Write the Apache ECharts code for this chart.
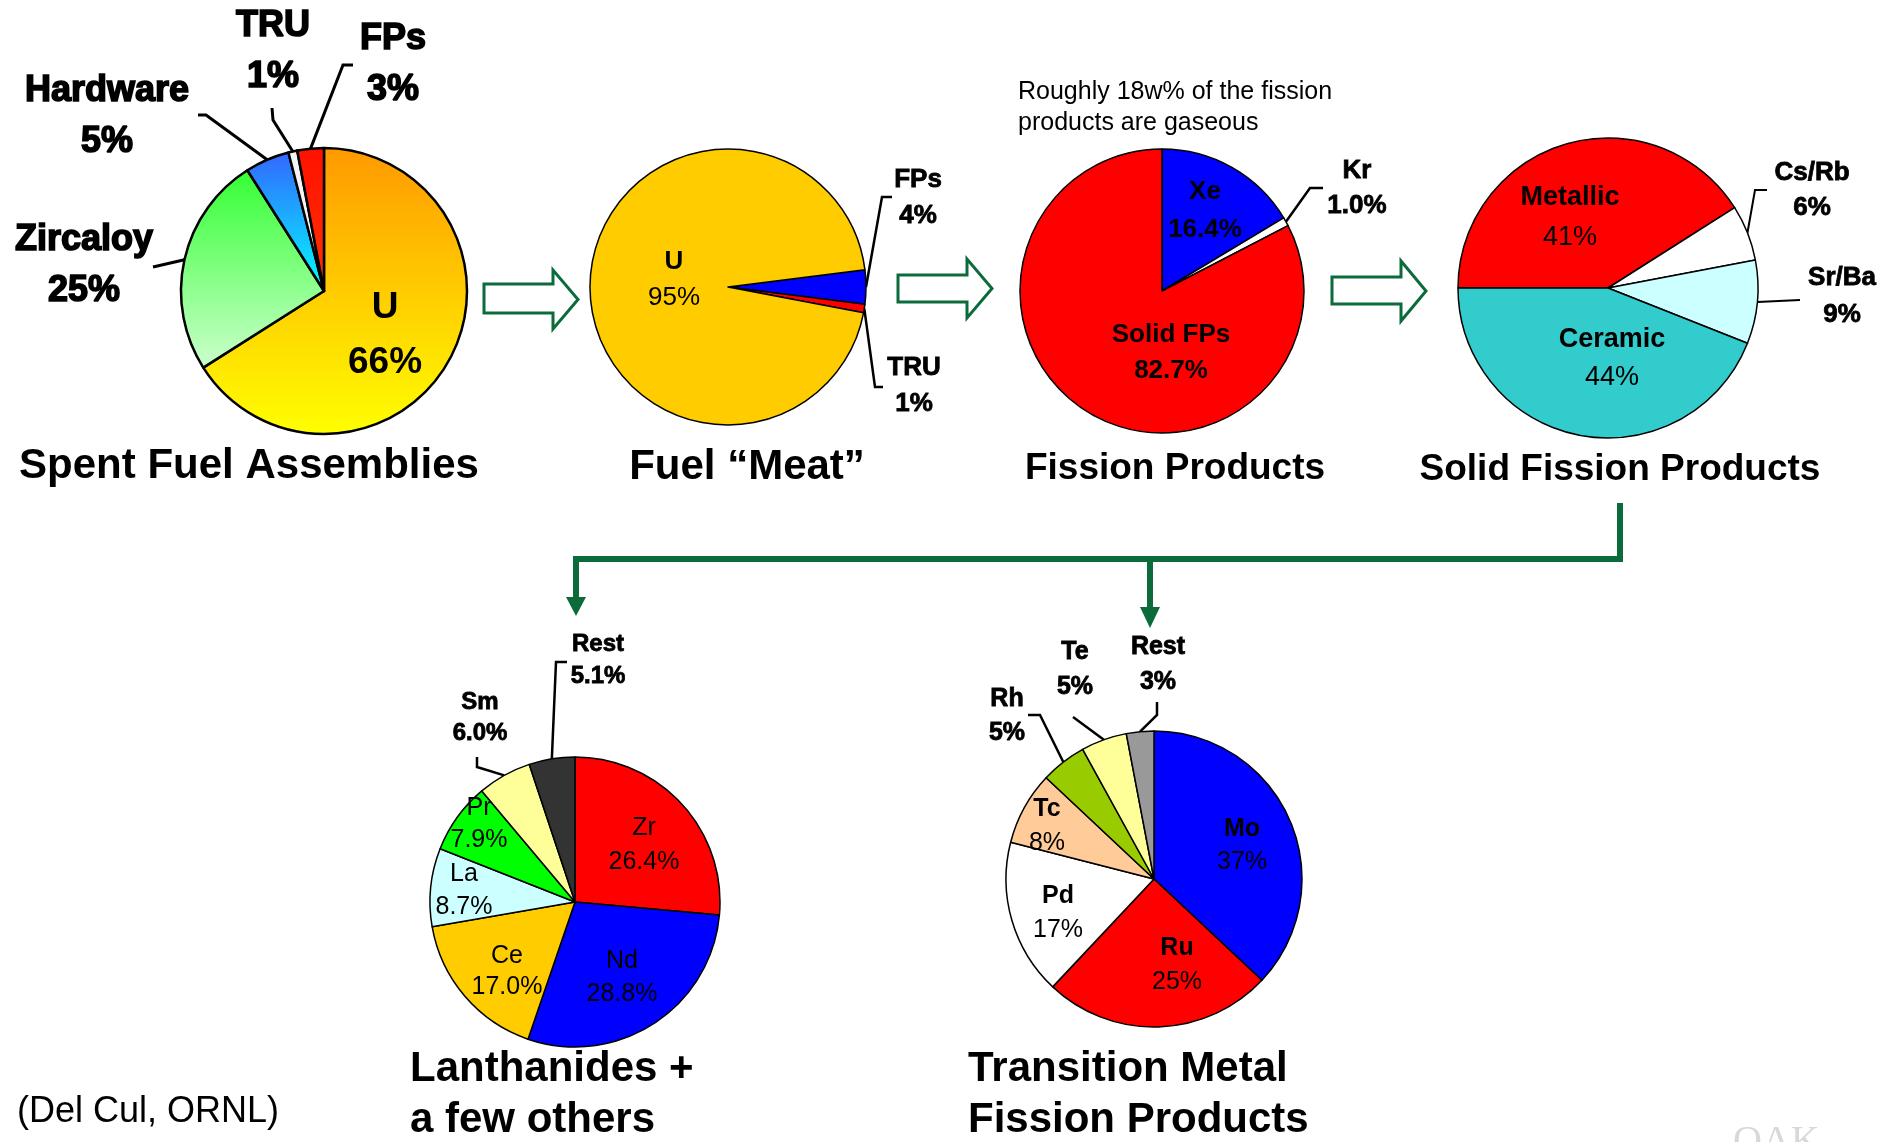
<!DOCTYPE html>
<html>
<head>
<meta charset="utf-8">
<script src="https://cdn.jsdelivr.net/npm/echarts@6/dist/echarts.min.js"></script>
<style>
  html, body { margin: 0; padding: 0; background: #ffffff; }
  #chart { width: 1900px; height: 1142px; }
</style>
</head>
<body>
<div id="chart"></div>
<script>
// ---- composition data (weight %) ----
const spentNames = ['U', 'Zircaloy', 'Hardware', 'TRU', 'FPs'];
const spentValues = [66, 25, 5, 1, 3];

const meatNames = ['FPs', 'TRU', 'U'];
const meatValues = [4, 1, 95];

const fissionNames = ['Xe', 'Kr', 'Solid FPs'];
const fissionValues = [16.4, 1.0, 82.7];

const solidNames = ['Metallic', 'Cs/Rb', 'Sr/Ba', 'Ceramic'];
const solidValues = [41, 6, 9, 44];

const lanthNames = ['Zr', 'Nd', 'Ce', 'La', 'Pr', 'Sm', 'Rest'];
const lanthValues = [26.4, 28.8, 17.0, 8.7, 7.9, 6.0, 5.1];

const tmNames = ['Mo', 'Ru', 'Pd', 'Tc', 'Rh', 'Te', 'Rest'];
const tmValues = [37, 25, 17, 8, 5, 5, 3];

// ---- styling ----
const FONT = '"Liberation Sans", Arial, Helvetica, sans-serif';
const GREEN = '#0B6B3A';

function grad(top, bottom) {
  return new echarts.graphic.LinearGradient(0, 0, 0, 1, [
    { offset: 0, color: top },
    { offset: 1, color: bottom }
  ]);
}

// Each pie: geometry, colours and where its labels sit.
// "line" lists the leader-line bend/end points (the start is the slice edge).
const pies = [
  {
    names: spentNames, values: spentValues, decimals: 0,
    center: [324, 291], radius: 143, startAngle: 90, border: 2.5, lineWidth: 3,
    colors: [grad('#FF9900', '#FFFF00'), grad('#33FF33', '#CCFFCC'), grad('#3366FF', '#00FFFF'), '#F4F4F4', grad('#FF1100', '#FF3300')],
    inSize: 37, outSize: 36, lh: 51, nameWeight: 'bold', valueWeight: 'bold',
    outStroke: 1.6, inStroke: 0,
    labels: [
      { x: 385, y: 335, lh: 55 },
      { x: 84, y: 266, line: [[153, 267]] },
      { x: 107, y: 117, line: [[206, 115], [198, 115]] },
      { x: 273, y: 52, line: [[273, 120], [272, 108]] },
      { x: 393, y: 65, line: [[343, 65], [353, 65]] }
    ]
  },
  {
    names: meatNames, values: meatValues, decimals: 0,
    center: [728, 287], radius: 138, startAngle: 7.2, border: 1.5, lineWidth: 2.5,
    colors: ['#0000FF', '#FF0000', '#FFCC00'],
    inSize: 26, outSize: 26, lh: 36, nameWeight: 'bold', valueWeight: 'normal',
    outStroke: 0.8, inStroke: 0,
    labels: [
      { x: 918, y: 198, line: [[882, 197], [892, 197]] },
      { x: 914, y: 386, line: [[875, 387], [883, 387]] },
      { x: 674, y: 280 }
    ]
  },
  {
    names: fissionNames, values: fissionValues, decimals: 1,
    center: [1162, 291], radius: 142, startAngle: 90, border: 1.5, lineWidth: 2.5,
    colors: ['#0000FF', '#FFFFFF', '#FF0000'],
    inSize: 26, outSize: 26, lh: 37, nameWeight: 'bold', valueWeight: 'bold',
    outStroke: 0.8, inStroke: 0,
    labels: [
      { x: 1205, y: 211, lh: 38 },
      { x: 1357, y: 188, lh: 35, line: [[1310, 188], [1323, 188]] },
      { x: 1171, y: 353, lh: 36 }
    ]
  },
  {
    names: solidNames, values: solidValues, decimals: 0,
    center: [1608, 288], radius: 150, startAngle: 180, border: 1.5, lineWidth: 2,
    colors: ['#FF0000', '#FFFFFF', '#CCFFFF', '#33CCCC'],
    inSize: 27, outSize: 26, lh: 39, nameWeight: 'bold', valueWeight: 'normal',
    outStroke: 0.8, inStroke: 0,
    labels: [
      { x: 1570, y: 218, lh: 40 },
      { x: 1812, y: 190, lh: 35, line: [[1755, 190], [1767, 190]] },
      { x: 1842, y: 296, lh: 37, line: [[1800, 300]] },
      { x: 1612, y: 359, lh: 38 }
    ]
  },
  {
    names: lanthNames, values: lanthValues, decimals: 1,
    center: [575, 902], radius: 145, startAngle: 90, border: 1.5, lineWidth: 2.5,
    colors: ['#FF0000', '#0000FF', '#FFCC00', '#CCFFFF', '#00FF00', '#FFFF99', '#333333'],
    inSize: 25, outSize: 24, lh: 33, nameWeight: 'normal', valueWeight: 'normal',
    outStroke: 0.8, inStroke: 0,
    labels: [
      { x: 644, y: 845, lh: 34 },
      { x: 622, y: 978 },
      { x: 507, y: 972, lh: 31 },
      { x: 464, y: 891 },
      { x: 479, y: 824, lh: 32 },
      { x: 480, y: 718, lh: 31, line: [[477, 767], [477, 757]] },
      { x: 598, y: 660, lh: 32, line: [[556, 662], [567, 662]] }
    ]
  },
  {
    names: tmNames, values: tmValues, decimals: 0,
    center: [1154, 879], radius: 148, startAngle: 90, border: 1.5, lineWidth: 2.5,
    colors: ['#0000FF', '#FF0000', '#FFFFFF', '#FFCC99', '#99CC00', '#FFFF99', '#999999'],
    inSize: 25, outSize: 25, lh: 34, nameWeight: 'bold', valueWeight: 'normal',
    outStroke: 0.8, inStroke: 0,
    labels: [
      { x: 1242, y: 846, lh: 33 },
      { x: 1177, y: 965 },
      { x: 1058, y: 913 },
      { x: 1047, y: 826 },
      { x: 1007, y: 716, line: [[1040, 715], [1028, 715]] },
      { x: 1075, y: 670, lh: 35, line: [[1073, 717]] },
      { x: 1158, y: 665, lh: 35, line: [[1157, 715], [1157, 702]] }
    ]
  }
];

function buildSeries(c) {
  return {
    type: 'pie',
    center: c.center,
    radius: c.radius,
    startAngle: c.startAngle,
    clockwise: true,
    avoidLabelOverlap: false,
    silent: true,
    animation: false,
    itemStyle: { borderColor: '#000000', borderWidth: c.border },
    labelLine: { show: false, lineStyle: { color: '#000000', width: c.lineWidth } },
    data: c.names.map(function (name, i) {
      const spec = c.labels[i];
      const outside = !!spec.line;
      const size = spec.size || (outside ? c.outSize : c.inSize);
      const lh = spec.lh || c.lh;
      const stroke = outside ? c.outStroke : c.inStroke;
      const valText = c.values[i].toFixed(c.decimals) + '%';
      const base = {
        fontSize: size, lineHeight: lh, fontFamily: FONT, color: '#000',
        textBorderColor: '#000', textBorderWidth: stroke
      };
      return {
        name: name,
        value: c.values[i],
        itemStyle: { color: c.colors[i] },
        label: {
          show: true,
          position: outside ? 'outside' : 'inside',
          formatter: '{n|' + name + '}\n{v|' + valText + '}',
          rich: {
            n: Object.assign({ fontWeight: outside ? 'bold' : c.nameWeight }, base),
            v: Object.assign({ fontWeight: outside ? 'bold' : c.valueWeight }, base)
          }
        },
        labelLine: { show: outside }
      };
    }),
    labelLayout: function (p) {
      const spec = c.labels[p.dataIndex];
      const o = { x: spec.x, y: spec.y, align: 'center', verticalAlign: 'middle' };
      if (spec.line && p.labelLinePoints && p.labelLinePoints.length) {
        o.labelLinePoints = [p.labelLinePoints[0]].concat(spec.line);
      }
      return o;
    }
  };
}

// ---- decorations: titles, note, flow arrows ----
function txt(t, x, y, size, weight, align, vAlign, lh, color, family) {
  return {
    type: 'text',
    silent: true,
    style: {
      text: t, x: x, y: y,
      fontSize: size, fontWeight: weight, fontFamily: family || FONT,
      fill: color || '#000000',
      align: align, textAlign: align,
      verticalAlign: vAlign, textVerticalAlign: vAlign,
      lineHeight: lh || size * 1.2
    }
  };
}

function blockArrow(left, base, bodyTop, bodyBottom, headTop, headBottom, tipX) {
  const tipY = (headTop + headBottom) / 2;
  return {
    type: 'polygon',
    silent: true,
    shape: { points: [[left, bodyTop], [base, bodyTop], [base, headTop], [tipX, tipY],
                      [base, headBottom], [base, bodyBottom], [left, bodyBottom]] },
    style: { fill: '#FFFFFF', stroke: GREEN, lineWidth: 3, lineJoin: 'miter' }
  };
}

function downHead(x, top, tip, half) {
  return {
    type: 'polygon', silent: true,
    shape: { points: [[x - half, top], [x + half, top], [x, tip]] },
    style: { fill: GREEN }
  };
}

const graphics = [
  txt('Spent Fuel Assemblies', 249, 466, 42, 'bold', 'center', 'middle'),
  txt('Fuel \u201CMeat\u201D', 747, 467, 42, 'bold', 'center', 'middle'),
  txt('Fission Products', 1175, 469, 37, 'bold', 'center', 'middle'),
  txt('Solid Fission Products', 1620, 470, 37, 'bold', 'center', 'middle'),
  txt('Lanthanides +\na few others', 410, 1095, 42, 'bold', 'left', 'middle', 51),
  txt('Transition Metal\nFission Products', 968, 1095, 42, 'bold', 'left', 'middle', 51),
  txt('Roughly 18w% of the fission\nproducts are gaseous', 1018, 77, 25, 'normal', 'left', 'top', 31),
  txt('(Del Cul, ORNL)', 17, 1112, 36, 'normal', 'left', 'middle'),
  txt('OAK', 1733, 1122, 40, 'normal', 'left', 'top', 40, '#D8D8D8', '"Liberation Serif", "DejaVu Serif", serif'),

  blockArrow(484, 553, 284, 313, 270, 329, 578),
  blockArrow(898, 967, 275, 302, 259, 318, 992),
  blockArrow(1332, 1401, 277, 304, 261, 321, 1426),

  {
    type: 'polyline', silent: true,
    shape: { points: [[1620, 503], [1620, 559], [576, 559], [576, 600]] },
    style: { stroke: GREEN, lineWidth: 6, fill: null, lineJoin: 'miter' }
  },
  {
    type: 'polyline', silent: true,
    shape: { points: [[1150, 559], [1150, 610]] },
    style: { stroke: GREEN, lineWidth: 6, fill: null }
  },
  downHead(576, 597, 616, 10),
  downHead(1150, 607, 628, 10)
];

const chart = echarts.init(document.getElementById('chart'), null, { renderer: 'canvas' });
chart.setOption({
  backgroundColor: '#FFFFFF',
  animation: false,
  series: pies.map(buildSeries),
  graphic: { elements: graphics }
});
</script>
</body>
</html>
